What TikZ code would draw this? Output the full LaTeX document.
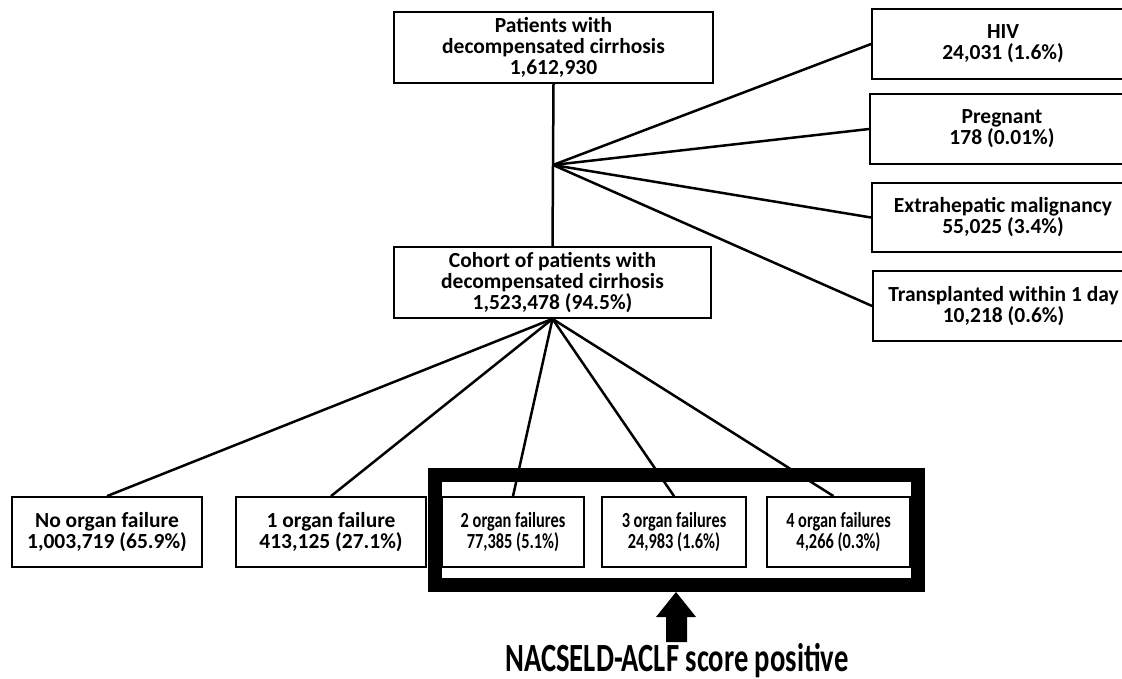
\documentclass[tikz,border=0pt]{standalone}
\usepackage{fontspec}
\setmainfont{Carlito}
\newfontfamily\condfont[FakeStretch=0.76]{Carlito}
\newfontfamily\labfont[FakeStretch=0.715]{Carlito}
\begin{document}
\begin{tikzpicture}[x=1pt,y=-1pt,
  box/.style={draw=black, line width=1.8pt, fill=white, inner sep=0pt, align=center,
    font=\fontsize{21.5}{21}\selectfont\bfseries},
  condbox/.style={box, font=\condfont\fontsize{21.5}{21}\selectfont\bfseries},
  link/.style={draw=black, line width=2.5pt}]
\useasboundingbox (0,0) rectangle (1122,679);
% top and cohort
\node[box, minimum width=319pt, minimum height=71pt] (top) at (553.5,47.5)
  {Patients with\\decompensated cirrhosis\\1,612,930};
\node[box, minimum width=317pt, minimum height=71pt] (coh) at (552.5,282.5)
  {Cohort of patients with\\decompensated cirrhosis\\1,523,478 (94.5\%)};
% exclusions
\node[box, minimum width=262pt, minimum height=70pt] (hiv) at (1003,44)
  {HIV\\24,031 (1.6\%)};
\node[box, minimum width=264pt, minimum height=70pt] (preg) at (1002,129)
  {Pregnant\\178 (0.01\%)};
\node[box, minimum width=262pt, minimum height=69pt] (extra) at (1003,217.5)
  {Extrahepatic malignancy\\55,025 (3.4\%)};
\node[box, minimum width=261pt, minimum height=70pt] (trans) at (1003.5,306)
  {Transplanted within 1 day\\10,218 (0.6\%)};
\coordinate (fan) at (553,165);
\draw[link] (top.south) -- (fan) -- (coh.north);
\foreach \t in {hiv,preg,extra,trans} \draw[link] (fan) -- (\t.west);
% frame
\draw[line width=14pt] (435,475) rectangle (918,585);
% bottom boxes
\node[box, minimum width=190pt, minimum height=70pt] (o0) at (107,532)
  {No organ failure\\1,003,719 (65.9\%)};
\node[box, minimum width=190pt, minimum height=70pt] (o1) at (331,532)
  {1 organ failure\\413,125 (27.1\%)};
\node[condbox, minimum width=142pt, minimum height=70pt] (o2) at (513,532)
  {2 organ failures\\77,385 (5.1\%)};
\node[condbox, minimum width=144pt, minimum height=70pt] (o3) at (674,532)
  {3 organ failures\\24,983 (1.6\%)};
\node[condbox, minimum width=143pt, minimum height=70pt] (o4) at (838.5,532)
  {4 organ failures\\4,266 (0.3\%)};
\foreach \t in {o0,o1,o2,o3} \draw[link] (coh.south) -- (\t.north);
\draw[link] (coh.south) -- ([xshift=-5pt]o4.north);
% arrow
\fill (676,592) -- (696,617) -- (687,617) -- (687,642) -- (666,642) -- (666,617) -- (656,617) -- cycle;
\node[anchor=base, inner sep=0pt, font=\labfont\fontsize{40}{42}\selectfont\bfseries] (lab) at (677,671)
  {NACSELD-ACLF score positive};
\end{tikzpicture}
\end{document}
